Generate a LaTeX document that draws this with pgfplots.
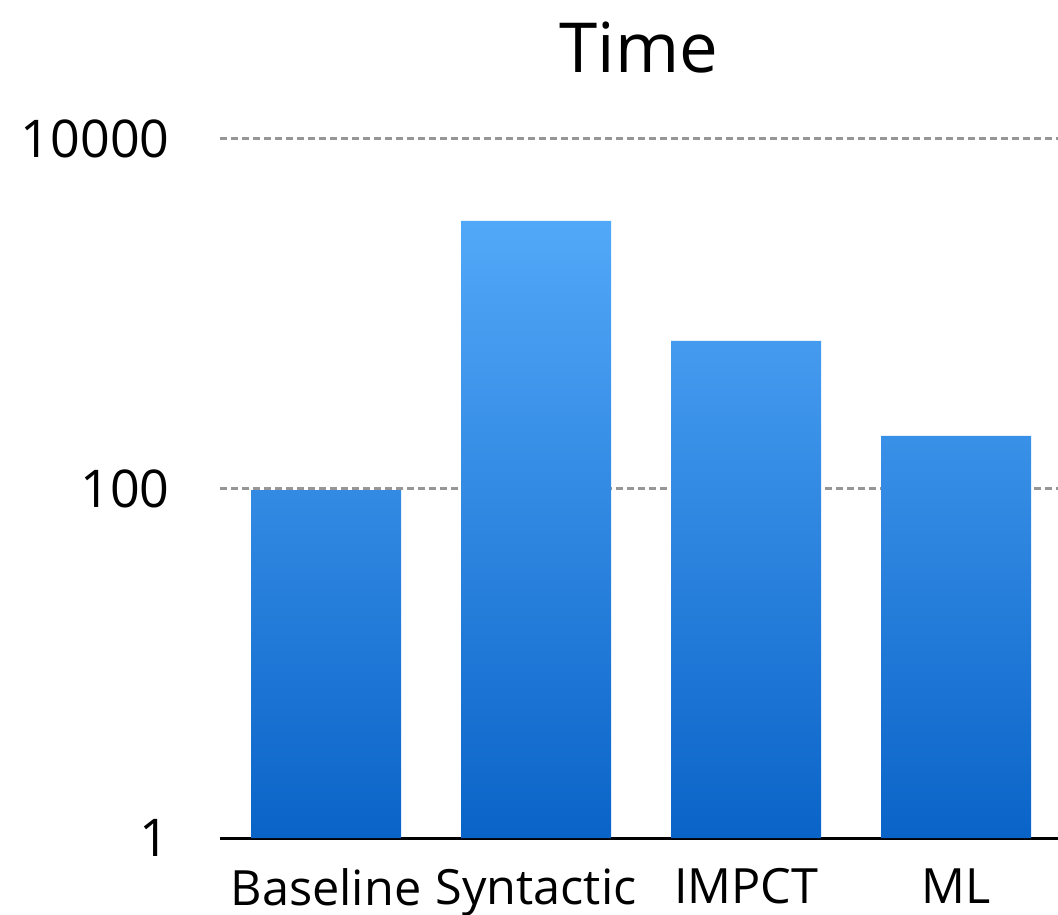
\documentclass[border=0pt]{standalone}
\usepackage{fontspec}
\setmainfont{Open Sans}
\usepackage{pgfplots}
\pgfplotsset{compat=1.18}
\definecolor{bartop}{RGB}{82,168,248}
\definecolor{barbot}{RGB}{10,100,200}
\definecolor{gridc}{RGB}{150,150,150}
\begin{document}
\begin{tikzpicture}
\begin{axis}[name=ax,
  width=419pt, height=349.5pt, scale only axis,
  ymode=log, log basis y=10, ymin=1, ymax=10000,
  xmin=-0.505, xmax=3.485,
  xtick={0,1,2,3}, xticklabels={Baseline,Syntactic,IMPCT,ML},
  ytick={1,100,10000}, yticklabels={1,100,10000},
  axis x line*=bottom, axis y line*=left,
  y axis line style={draw=none},
  x axis line style={line width=1.5pt, black},
  major tick length=0pt, tick style={draw=none},
  ymajorgrids,
  grid style={gridc, line width=1.5pt, dash pattern=on 3.5pt off 2pt},
  yticklabel style={font=\fontsize{26}{30}\selectfont, anchor=east, inner sep=0pt, xshift=-25pt},
  xticklabel style={font=\fontsize{24.3}{28}\selectfont, anchor=north, inner sep=0pt, yshift=-15pt},
  title={Time},
  title style={font=\fontsize{34.5}{40}\selectfont, anchor=base, at={(0.5,1)}, yshift=27pt},
]
\addplot[ybar, bar width=0.714, draw=none, top color=bartop, bottom color=barbot]
  coordinates {(0,98) (1,3400) (2,700) (3,200)};
\end{axis}
\pgfresetboundingbox
\path[use as bounding box] ([xshift=-110pt,yshift=-38pt]ax.south west) rectangle ([yshift=69.5pt]ax.north east);
\end{tikzpicture}
\end{document}
